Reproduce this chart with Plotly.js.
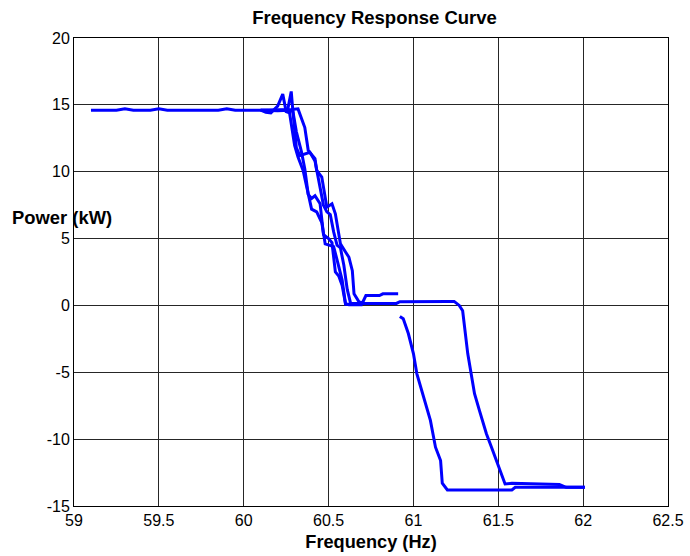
<!DOCTYPE html>
<html>
<head>
<meta charset="utf-8">
<script src="https://cdn.plot.ly/plotly-3.0.1.min.js"></script>
<style>html,body{margin:0;padding:0;background:#fff;}#chart{width:690px;height:556px;}</style>
</head>
<body>
<div id="chart"></div>
<script>
// Frequency (Hz) and Power (kW) readings, one pair of arrays per recorded pass
const freqA = [59.1,59.25,59.3,59.35,59.45,59.5,59.55,59.85,59.9,59.95,60.05,60.1,60.13,60.16,60.2,60.23,60.25,60.27,60.30,60.32,60.35,60.37,60.40,60.43,60.46,60.48,60.53,60.55,60.58,60.60,60.70];
const powerA = [14.6,14.6,14.7,14.6,14.6,14.7,14.6,14.6,14.7,14.6,14.6,14.6,14.45,14.4,14.9,15.8,14.5,14.4,11.96,11.1,10.1,8.84,7.2,7.0,6.2,4.6,4.4,3.4,1.9,0.1,0.08];

const freqB = [60.1,60.2,60.24,60.26,60.28,60.29,60.31,60.33,60.36,60.39,60.42,60.43,60.45,60.47,60.49,60.51,60.53,60.55,60.57,60.59,60.61,60.63,60.9,60.92,61.2,61.24,61.27,61.29,61.32,61.36,61.39,61.43,61.46,61.50,61.54,61.58,61.86,61.90,62.01];
const powerB = [14.6,14.6,14.6,14.7,16.0,14.5,11.8,11.2,11.3,11.45,10.8,10.1,9.0,7.5,7.0,6.8,5.5,4.5,4.3,3.0,1.2,0.15,0.15,0.28,0.3,0.3,0.0,-0.4,-3.6,-6.6,-7.9,-9.6,-10.6,-12.0,-13.35,-13.3,-13.4,-13.6,-13.6];

const freqC = [60.1,60.2,60.28,60.32,60.36,60.38,60.42,60.43,60.46,60.49,60.52,60.54,60.57,60.60,60.62,60.64,60.65,60.68,60.70,60.72,60.80,60.82,60.91];
const powerC = [14.6,14.6,14.65,14.7,13.3,11.6,10.97,10.1,9.6,7.35,7.6,6.85,4.6,4.0,3.6,2.6,0.87,0.25,0.2,0.74,0.74,0.87,0.87];

const freqD = [60.1,60.2,60.27,60.29,60.31,60.34,60.36,60.38,60.40,60.42,60.45,60.47,60.50,60.52,60.54,60.56,60.58,60.60,60.62,60.65,60.70];
const powerD = [14.6,14.55,14.6,14.5,13.0,11.5,10.2,8.3,8.0,8.2,7.6,5.3,5.0,4.7,2.5,2.2,1.5,0.1,0.05,0.05,0.05];

const freqE = [60.92,60.94,60.97,61.0,61.02,61.06,61.10,61.13,61.16,61.17,61.20,61.58,61.60,62.01];
const powerE = [-0.83,-1.0,-2.1,-3.6,-5.1,-6.9,-8.6,-10.6,-11.6,-13.3,-13.8,-13.8,-13.6,-13.6];

const xTicks = [59,59.5,60,60.5,61,61.5,62,62.5];
const xTickText = ['59','59.5','60','60.5','61','61.5','62','62.5'];
const yTicks = [-15,-10,-5,0,5,10,15,20];
const yTickText = ['-15','-10','-5','0','5','10','15','20'];

const passes = [[freqA,powerA],[freqB,powerB],[freqC,powerC],[freqD,powerD],[freqE,powerE]];
const data = passes.map(p => ({
  x: p[0], y: p[1], type: 'scatter', mode: 'lines',
  line: {color: '#0000ff', width: 3}, showlegend: false, hoverinfo: 'skip'
}));

const font = 'Liberation Sans, Arial, sans-serif';
const layout = {
  width: 690, height: 556,
  margin: {l: 74, r: 22, t: 38, b: 50, pad: 0},
  paper_bgcolor: '#ffffff', plot_bgcolor: '#ffffff',
  font: {family: font, size: 16, color: '#000'},
  title: {text: '<b>Frequency Response Curve</b>', font: {family: font, size: 18.5, color: '#000'},
          x: 0.506, xanchor: 'center', xref: 'paper', y: 0.969, yanchor: 'middle', yref: 'container'},
  xaxis: {
    range: [59, 62.5], tickvals: xTicks, ticktext: xTickText,
    showgrid: true, gridcolor: '#262626', gridwidth: 1,
    showline: true, linecolor: '#000', linewidth: 1, mirror: true,
    zeroline: false, ticks: '', tickfont: {family: font, size: 16, color: '#000'},
    title: {text: '<b>Frequency (Hz)</b>', font: {family: font, size: 18.2, color: '#000'}, standoff: 7}
  },
  yaxis: {
    range: [-15, 20], tickvals: yTicks, ticktext: yTickText,
    showgrid: true, gridcolor: '#262626', gridwidth: 1,
    showline: true, linecolor: '#000', linewidth: 1, mirror: true,
    zeroline: false, ticks: '', tickfont: {family: font, size: 16, color: '#000'}
  },
  annotations: [{
    text: '<b>Power (kW)</b>', xref: 'paper', yref: 'y', x: -0.021, y: 6.6,
    xanchor: 'center', yanchor: 'middle', showarrow: false,
    font: {family: font, size: 18.4, color: '#000'}
  }]
};

Plotly.newPlot('chart', data, layout, {staticPlot: true, displayModeBar: false});
</script>
</body>
</html>
